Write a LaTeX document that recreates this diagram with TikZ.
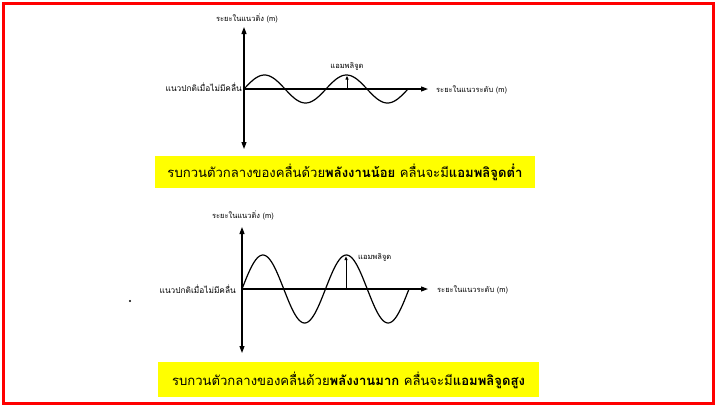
\documentclass[tikz,border=0pt]{standalone}
\usepackage{fontspec}
\newfontfamily\thaifont[Script=Thai]{Loma}
\usetikzlibrary{arrows.meta}
\definecolor{boxyellow}{RGB}{255,255,0}
\definecolor{framered}{RGB}{255,0,0}
\tikzset{
  axis/.style={line width=1.1pt, {Triangle[length=7pt,width=5pt]}-{Triangle[length=7pt,width=5pt]}},
  haxis/.style={line width=1.1pt, -{Triangle[length=7pt,width=5pt]}},
  wave/.style={line width=1.2pt},
  amp/.style={line width=0.9pt, -{Latex[length=4pt,width=3.5pt]}},
  lbl/.style={font=\thaifont\fontsize{7.5}{9}\selectfont, inner sep=1pt},
  biglbl/.style={font=\thaifont\fontsize{8.3}{10}\selectfont, inner sep=1pt},
  caption/.style={fill=boxyellow, font=\thaifont\fontsize{13.1}{15}\selectfont, inner sep=0pt, anchor=center},
}
\begin{document}
\begin{tikzpicture}[x=1pt,y=-1pt]
\useasboundingbox (0,0) rectangle (715,405);
\draw[framered, line width=3pt] (3,3) rectangle (713,403);

% ---- top graph ----
\coordinate (t0) at (244,89);
\coordinate (ttop) at (244,27);
\coordinate (tbot) at (244,149);
\coordinate (tright) at (428,89);
\coordinate (tamp) at (347,75.5);
\coordinate (tampb) at (347,89);
\draw[axis] (tbot) -- (ttop);
\draw[haxis] (t0) -- (tright);
\draw[wave] plot[domain=0:164, samples=120, smooth] ({244+\x},{89-14*sin(\x/82*360)});
\draw[amp] (tampb) -- (tamp);
\node[lbl, anchor=south] (tvl) at (247,24) {ระยะในแนวดิ่ง (m)};
\node[lbl, anchor=west] (thl) at (435,90) {ระยะในแนวระดับ (m)};
\node[biglbl, anchor=east] (tnl) at (243,87) {แนวปกติเมื่อไม่มีคลื่น};
\node[lbl, anchor=center] (tal) at (347,66) {แอมพลิจูด};

\path[fill=boxyellow] (155,156) rectangle (535,188);
\node[caption] (cap1) at (345,172) {รบกวนตัวกลางของคลื่นด้วย\textbf{พลังงานน้อย} คลื่นจะมี\textbf{แอมพลิจูดต่ำ}};

% ---- bottom graph ----
\coordinate (b0) at (242,289);
\coordinate (btop) at (242,227);
\coordinate (bbot) at (242,353);
\coordinate (bright) at (428,289);
\coordinate (bamp) at (346,256);
\coordinate (bampb) at (346,289);
\draw[axis] (bbot) -- (btop);
\draw[haxis] (b0) -- (bright);
\draw[wave] plot[domain=0:167, samples=120, smooth] ({242+\x},{289-34*sin(\x/83.5*360)});
\draw[amp] (bampb) -- (bamp);
\node[lbl, anchor=south] (bvl) at (243,221) {ระยะในแนวดิ่ง (m)};
\node[lbl, anchor=west] (bhl) at (436,290) {ระยะในแนวระดับ (m)};
\node[biglbl, anchor=east] (bnl) at (237,289) {แนวปกติเมื่อไม่มีคลื่น};
\node[lbl, anchor=west] (bal) at (357,257) {แอมพลิจูด};

\path[fill=boxyellow] (158,362) rectangle (539,397);
\node[caption] (cap2) at (348.5,380) {รบกวนตัวกลางของคลื่นด้วย\textbf{พลังงานมาก} คลื่นจะมี\textbf{แอมพลิจูดสูง}};

\fill (130,301) circle (1.2pt);
\end{tikzpicture}
\end{document}
